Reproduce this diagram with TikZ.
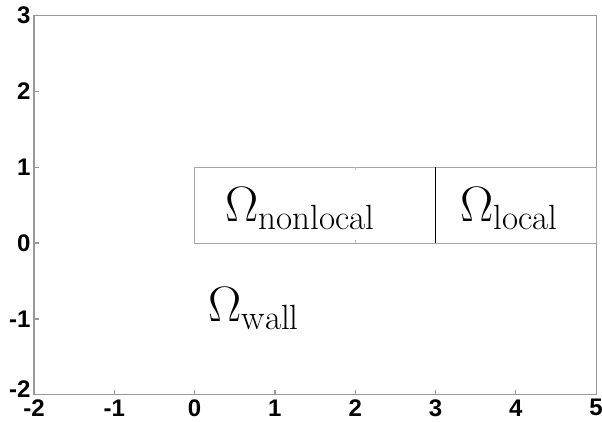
\documentclass[tikz,border=0pt]{standalone}
\usepackage{fontspec}
\newfontfamily\ticksfont{Liberation Sans}
\usepackage{amsmath}
\usepackage{tikz}

\begin{document}
\begin{tikzpicture}[x=40.15pt, y=37.95pt,
        % Define styles for the axes and the regions
        frame/.style={draw=black!40, line width=0.6pt},
        ticklabel/.style={font=\ticksfont\bfseries\fontsize{12}{14}\selectfont, inner sep=0pt},
        region/.style={font=\fontsize{25}{29}\selectfont, inner sep=0pt, anchor=base west}]

        \useasboundingbox (-2.423,-2.345) rectangle (5.073,3.202);

        % 1. The box of the axes
        \draw[frame] (-2,-2) rectangle (5,3);

        % 2. Ticks and their labels
        \foreach \x [count=\i] in {-2,...,5} {
            \draw[frame] (\x,-2) -- ++(0,2.5pt);
            \node[ticklabel] (xlabel\i) at (\x,-2.17) {\x};
        }
        \foreach \y [count=\i] in {-1,...,3} {
            \draw[frame] (-2,\y) -- ++(2.5pt,0);
            \node[ticklabel, anchor=east] (ylabel\i) at (-2.04,\y) {\y};
        }
        \node[ticklabel, anchor=east] (ylabel0) at (-2.04,-1.93) {-2};

        % 3. The two subdomains
        \draw[draw=black!35, line width=0.5pt] (0,0) rectangle (5,1);
        \draw[black, line width=0.5pt] (3,0) -- (3,1);
        \draw[black!25, line width=0.4pt] (2,1) -- ++(0,-1.5pt) (2,0) -- ++(0,1.5pt);

        % 4. Label the regions
        \node[region] (nonlocal) at (0.38,0.28) {$\Omega_{\mathrm{nonlocal}}$};
        \node[region] (local) at (3.305,0.28) {$\Omega_{\mathrm{local}}$};
        \node[region] (wall) at (0.167,-1.037) {$\Omega_{\mathrm{wall}}$};
    \end{tikzpicture}
\end{document}
